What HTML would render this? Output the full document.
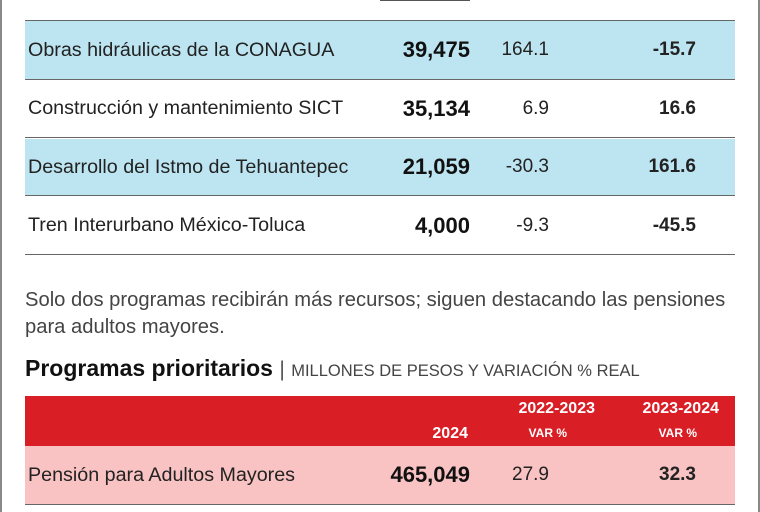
<!DOCTYPE html>
<html><head><meta charset="utf-8"><style>
body{margin:0;width:760px;height:512px;overflow:hidden;background:#fff;font-family:"Liberation Sans",sans-serif;position:relative}
.edge{position:absolute;top:0;bottom:0;width:2px;background:#888}
.row{position:absolute;left:25px;width:710px;border-bottom:1.5px solid #666}
.c{position:absolute;top:0;bottom:0;display:flex;align-items:center;font-size:19.7px;color:#222}
.n{font-weight:bold;font-size:22px;color:#111;right:265px;justify-content:flex-end}
.a{right:186px;justify-content:flex-end;font-size:19px}
.b{right:39px;justify-content:flex-end;font-weight:bold;font-size:19px}
.t{position:absolute;left:25px;color:#444;font-size:20.2px}
</style></head><body>
<div class="edge" style="left:0"></div><div class="edge" style="right:0"></div>
<div style="position:absolute;left:380px;top:-4px;width:90px;height:5px;background:#555"></div>
<div class="row" style="top:20px;height:58px;background:#bde5f1;border-top:1.5px solid #666">
<div class="c" style="left:3px">Obras hidráulicas de la CONAGUA</div><div class="c n">39,475</div><div class="c a">164.1</div><div class="c b">-15.7</div></div>
<div class="row" style="top:80px;height:57px">
<div class="c" style="left:3px">Construcción y mantenimiento SICT</div><div class="c n">35,134</div><div class="c a">6.9</div><div class="c b">16.6</div></div>
<div class="row" style="top:139px;height:56px;background:#bde5f1">
<div class="c" style="left:3px">Desarrollo del Istmo de Tehuantepec</div><div class="c n">21,059</div><div class="c a">-30.3</div><div class="c b">161.6</div></div>
<div class="row" style="top:197px;height:57px">
<div class="c" style="left:3px">Tren Interurbano México-Toluca</div><div class="c n">4,000</div><div class="c a">-9.3</div><div class="c b">-45.5</div></div>
<div class="t" style="top:287px;line-height:27px">Solo dos programas recibirán más recursos; siguen destacando las pensiones<br>para adultos mayores.</div>
<div style="position:absolute;left:25px;top:355px;font-size:23px;font-weight:bold;color:#111">Programas prioritarios <span style="font-weight:normal;color:#555;font-size:21px">|</span> <span style="font-weight:normal;font-size:16.5px;color:#444">MILLONES DE PESOS Y VARIACIÓN % REAL</span></div>
<div style="position:absolute;left:25px;top:396px;width:710px;height:50px;background:#d91e26;color:#fff;font-weight:bold">
<div style="position:absolute;right:267px;top:29px;font-size:16px">2024</div>
<div style="position:absolute;right:140px;top:4px;font-size:16px">2022-2023</div>
<div style="position:absolute;right:168px;top:30px;font-size:12px">VAR %</div>
<div style="position:absolute;right:16px;top:4px;font-size:16px">2023-2024</div>
<div style="position:absolute;right:38px;top:30px;font-size:12px">VAR %</div>
</div>
<div class="row" style="top:446px;height:58px;background:#f9c2c3">
<div class="c" style="left:3px">Pensión para Adultos Mayores</div><div class="c n">465,049</div><div class="c a">27.9</div><div class="c b">32.3</div></div>
</body></html>
